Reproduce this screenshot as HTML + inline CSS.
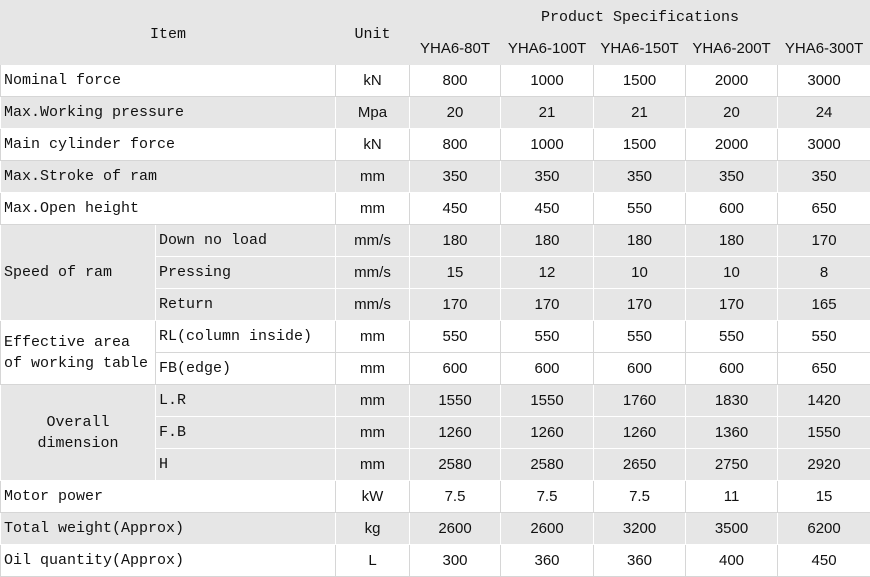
<!DOCTYPE html>
<html><head><meta charset="utf-8"><style>
html,body{margin:0;padding:0;background:#fff;width:870px;height:577px;overflow:hidden}
table{border-collapse:collapse;table-layout:fixed;width:870px;font-family:"Liberation Sans","Noto Sans CJK SC",sans-serif;font-size:15px;color:#111}
td{height:31px;padding:0;border:1px solid #d6d6d6;text-align:center;vertical-align:middle;white-space:nowrap;line-height:18px}
.g td{background:#e6e6e6;border-color:#fff}
.l{text-align:left;padding-left:3px;font-family:"Liberation Mono","Noto Sans CJK SC",monospace}
.m{font-family:"Liberation Mono","Noto Sans CJK SC",monospace}
.hd td{background:#e6e6e6;border-color:#e6e6e6}
.hd{height:32px}
.dn{position:relative;top:2px}
</style></head><body>
<table>
<colgroup><col style="width:155px"><col style="width:180px"><col style="width:74px"><col style="width:91px"><col style="width:93px"><col style="width:92px"><col style="width:92px"><col style="width:93px"></colgroup>
<tr class="hd"><td colspan="2" rowspan="2" class="m"><span class="dn">Item</span></td><td rowspan="2" class="m"><span class="dn">Unit</span></td><td colspan="5" class="m" style="vertical-align:top;line-height:34px;height:31px"><div style="height:31px;margin-top:0px">Product Specifications</div></td></tr>
<tr class="hd"><td>YHA6-80T</td><td>YHA6-100T</td><td>YHA6-150T</td><td>YHA6-200T</td><td>YHA6-300T</td></tr>
<tr><td colspan="2" class="l">Nominal force</td><td>kN</td><td>800</td><td>1000</td><td>1500</td><td>2000</td><td>3000</td></tr>
<tr class="g"><td colspan="2" class="l">Max.Working pressure</td><td>Mpa</td><td>20</td><td>21</td><td>21</td><td>20</td><td>24</td></tr>
<tr><td colspan="2" class="l">Main cylinder force</td><td>kN</td><td>800</td><td>1000</td><td>1500</td><td>2000</td><td>3000</td></tr>
<tr class="g"><td colspan="2" class="l">Max.Stroke of ram</td><td>mm</td><td>350</td><td>350</td><td>350</td><td>350</td><td>350</td></tr>
<tr><td colspan="2" class="l">Max.Open height</td><td>mm</td><td>450</td><td>450</td><td>550</td><td>600</td><td>650</td></tr>
<tr class="g"><td rowspan="3" class="l">Speed of ram</td><td class="l">Down no load</td><td>mm/s</td><td>180</td><td>180</td><td>180</td><td>180</td><td>170</td></tr>
<tr class="g"><td class="l">Pressing</td><td>mm/s</td><td>15</td><td>12</td><td>10</td><td>10</td><td>8</td></tr>
<tr class="g"><td class="l">Return</td><td>mm/s</td><td>170</td><td>170</td><td>170</td><td>170</td><td>165</td></tr>
<tr><td rowspan="2" class="l" style="line-height:21px">Effective area<br>of working table</td><td class="l">RL(column inside)</td><td>mm</td><td>550</td><td>550</td><td>550</td><td>550</td><td>550</td></tr>
<tr><td class="l">FB(edge)</td><td>mm</td><td>600</td><td>600</td><td>600</td><td>600</td><td>650</td></tr>
<tr class="g"><td rowspan="3" class="m" style="line-height:21px">Overall<br>dimension</td><td class="l">L.R</td><td>mm</td><td>1550</td><td>1550</td><td>1760</td><td>1830</td><td>1420</td></tr>
<tr class="g"><td class="l">F.B</td><td>mm</td><td>1260</td><td>1260</td><td>1260</td><td>1360</td><td>1550</td></tr>
<tr class="g"><td class="l">H</td><td>mm</td><td>2580</td><td>2580</td><td>2650</td><td>2750</td><td>2920</td></tr>
<tr><td colspan="2" class="l">Motor power</td><td>kW</td><td>7.5</td><td>7.5</td><td>7.5</td><td>11</td><td>15</td></tr>
<tr class="g"><td colspan="2" class="l">Total weight(Approx)</td><td>kg</td><td>2600</td><td>2600</td><td>3200</td><td>3500</td><td>6200</td></tr>
<tr><td colspan="2" class="l">Oil quantity(Approx)</td><td>L</td><td>300</td><td>360</td><td>360</td><td>400</td><td>450</td></tr>
</table>
</body></html>
